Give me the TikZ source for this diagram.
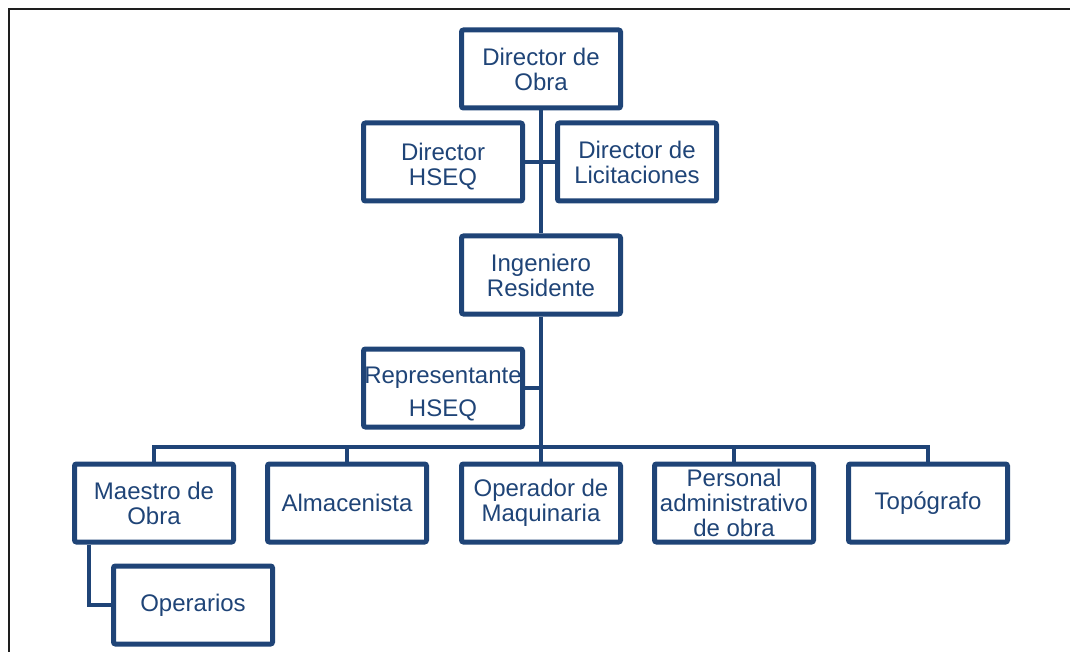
\documentclass[tikz,border=0pt]{standalone}
\usepackage{fontspec}
\setmainfont{Liberation Sans}
\definecolor{orgblue}{RGB}{31,68,119}
\definecolor{frameline}{RGB}{30,30,30}

\begin{document}
\begin{tikzpicture}[x=0.75pt, y=-0.75pt,
  cargo/.style={draw=orgblue, line width=3.75pt, rounded corners=1.5pt,
    minimum width=119.25pt, minimum height=58.5pt, inner sep=0pt,
    align=center, text=orgblue, font=\fontsize{18}{18.75}\selectfont},
  enlace/.style={draw=orgblue, line width=3.5pt}]
\useasboundingbox (0,0) rectangle (1070,652);
\draw[frameline, line width=1.5pt] (9,652) -- (9,9) -- (1070,9);

\node[cargo] (dobra)  at (541, 69) {Director de\\Obra};
\node[cargo] (dhseq)  at (443,162) {\rule{0pt}{20pt}Director\\HSEQ};
\node[cargo] (dlic)   at (637,162) {Director de\\Licitaciones};
\node[cargo] (ires)   at (541,275) {Ingeniero\\Residente};
\node[cargo] (rhseq)  at (443,388) {\rule{0pt}{22pt}Representante\\[6pt]HSEQ};
\node[cargo] (maestro)  at (154,503) {Maestro de\\Obra};
\node[cargo] (almac)    at (347,503) {Almacenista};
\node[cargo] (oper)     at (541,503) {Operador de\\Maquinaria};
\node[cargo] (personal) at (734,503) {Personal\\administrativo\\de obra};
\node[cargo] (topo)     at (928,503) {Topógrafo};
\node[cargo] (operarios) at (193,605) {Operarios};

\coordinate (bus) at (541,447);
\draw[enlace] (dobra.south) -- (ires.north);
\draw[enlace] (dhseq.east) -- (dlic.west);
\draw[enlace] (ires.south) -- (oper.north);
\draw[enlace] (rhseq.east) -- (rhseq.east -| ires.south);
\draw[enlace] (maestro.north) |- (bus) -| (topo.north);
\foreach \n in {almac,personal}
  \draw[enlace] (\n.north) -- (\n.north |- bus);
\draw[enlace] ([xshift=12.75pt]maestro.south west) |- (operarios.west);
\end{tikzpicture}
\end{document}
